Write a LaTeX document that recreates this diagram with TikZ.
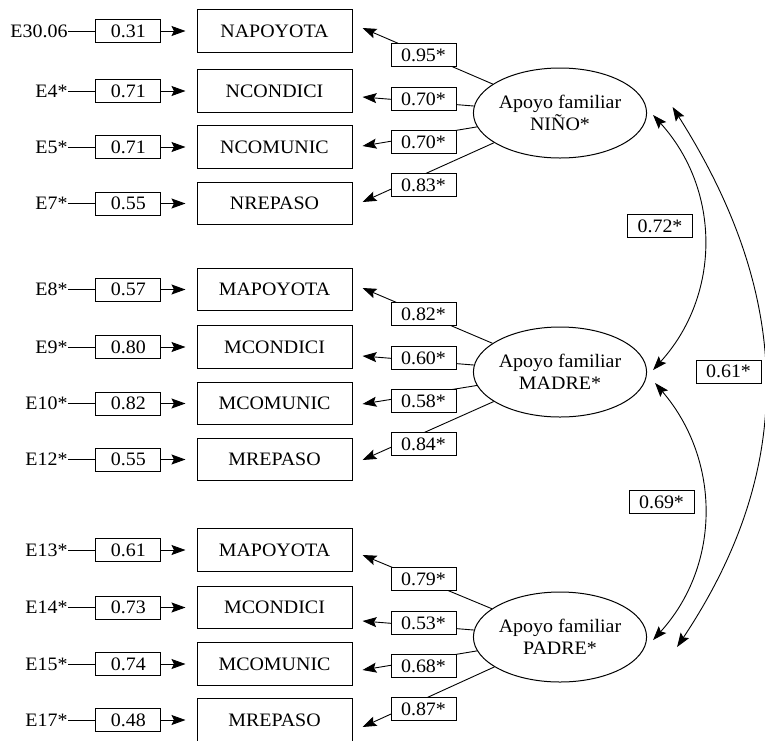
\documentclass[tikz,border=0pt]{standalone}
\usepackage{fontspec}
\setmainfont{Liberation Serif}[FakeStretch=1.05]
\usetikzlibrary{arrows.meta,shapes.geometric}

\begin{document}
\begin{tikzpicture}[x=1pt, y=-1pt, line width=0.9pt,
  every node/.style={inner sep=0pt, font=\fontsize{19}{22}\selectfont},
  >={Stealth[length=14pt,width=10pt,inset=2.5pt]},
  obs/.style={draw, line width=1pt, minimum width=155pt, minimum height=42.5pt},
  coef/.style={draw, line width=1pt, fill=white, minimum width=65pt, minimum height=23pt},
  lat/.style={draw, line width=1pt, ellipse, minimum width=165pt, minimum height=90pt, align=center},
  err/.style={anchor=east},
  errarrow/.style={->, shorten >=11pt}]
  \useasboundingbox (0,0) rectangle (765,740);

  % Latent factors
  \node[lat] (nino)  at (560,113) {Apoyo familiar\\NIÑO*};
  \node[lat] (madre) at (560,372) {Apoyo familiar\\MADRE*};
  \node[lat] (padre) at (560,637) {Apoyo familiar\\PADRE*};

  % Child indicators
  \node[obs] (v1) at (274.5,31)    {NAPOYOTA};
  \node[obs] (v2) at (274.5,91)    {NCONDICI};
  \node[obs] (v3) at (274.5,147)   {NCOMUNIC};
  \node[obs] (v4) at (274.5,203.5) {NREPASO};
  \node[err] (e1) at (68,31)    {E30.06};
  \node[err] (e2) at (68,91)    {E4*};
  \node[err] (e3) at (68,147)   {E5*};
  \node[err] (e4) at (68,203.5) {E7*};
  \draw[errarrow] (e1) -- (v1) node[coef, pos=0.47] (d1) {0.31};
  \draw[errarrow] (e2) -- (v2) node[coef, pos=0.47] (d2) {0.71};
  \draw[errarrow] (e3) -- (v3) node[coef, pos=0.47] (d3) {0.71};
  \draw[errarrow] (e4) -- (v4) node[coef, pos=0.47] (d4) {0.55};
  \draw[->] (nino) -- ([shift={(10,-3)}]v1.east);
  \draw[->] (nino) -- ([shift={(10,6)}]v2.east);
  \draw[->] (nino) -- ([shift={(10,-1)}]v3.east);
  \draw[->] (nino) -- ([shift={(10,-1.5)}]v4.east);
  \node[coef] (l1) at (423.5,55)  {0.95*};
  \node[coef] (l2) at (423.5,99)  {0.70*};
  \node[coef] (l3) at (423.5,142) {0.70*};
  \node[coef] (l4) at (423.5,185) {0.83*};

  % Mother indicators
  \node[obs] (v5) at (274.5,289.5) {MAPOYOTA};
  \node[obs] (v6) at (274.5,347)   {MCONDICI};
  \node[obs] (v7) at (274.5,403.5) {MCOMUNIC};
  \node[obs] (v8) at (274.5,459.5) {MREPASO};
  \node[err] (e5) at (68,289.5) {E8*};
  \node[err] (e6) at (68,347)   {E9*};
  \node[err] (e7) at (68,403.5) {E10*};
  \node[err] (e8) at (68,459.5) {E12*};
  \draw[errarrow] (e5) -- (v5) node[coef, pos=0.47] (d5) {0.57};
  \draw[errarrow] (e6) -- (v6) node[coef, pos=0.47] (d6) {0.80};
  \draw[errarrow] (e7) -- (v7) node[coef, pos=0.47] (d7) {0.82};
  \draw[errarrow] (e8) -- (v8) node[coef, pos=0.47] (d8) {0.55};
  \draw[->] (madre) -- ([shift={(10,-1.5)}]v5.east);
  \draw[->] (madre) -- ([shift={(10,9)}]v6.east);
  \draw[->] (madre) -- ([shift={(10,0.5)}]v7.east);
  \draw[->] (madre) -- ([shift={(10,0.5)}]v8.east);
  \node[coef] (l5) at (423.5,314) {0.82*};
  \node[coef] (l6) at (423.5,358) {0.60*};
  \node[coef] (l7) at (423.5,401) {0.58*};
  \node[coef] (l8) at (423.5,444) {0.84*};

  % Father indicators
  \node[obs] (v9)  at (274.5,550)   {MAPOYOTA};
  \node[obs] (v10) at (274.5,607.5) {MCONDICI};
  \node[obs] (v11) at (274.5,664)   {MCOMUNIC};
  \node[obs] (v12) at (274.5,720)   {MREPASO};
  \node[err] (e9)  at (68,550)   {E13*};
  \node[err] (e10) at (68,607.5) {E14*};
  \node[err] (e11) at (68,664)   {E15*};
  \node[err] (e12) at (68,720)   {E17*};
  \draw[errarrow] (e9)  -- (v9)  node[coef, pos=0.47] (d9)  {0.61};
  \draw[errarrow] (e10) -- (v10) node[coef, pos=0.47] (d10) {0.73};
  \draw[errarrow] (e11) -- (v11) node[coef, pos=0.47] (d11) {0.74};
  \draw[errarrow] (e12) -- (v12) node[coef, pos=0.47] (d12) {0.48};
  \draw[->] (padre) -- ([shift={(10,5)}]v9.east);
  \draw[->] (padre) -- ([shift={(10,13.5)}]v10.east);
  \draw[->] (padre) -- ([shift={(10,6)}]v11.east);
  \draw[->] (padre) -- ([shift={(10,7)}]v12.east);
  \node[coef] (l9)  at (423.5,579) {0.79*};
  \node[coef] (l10) at (423.5,623) {0.53*};
  \node[coef] (l11) at (423.5,666) {0.68*};
  \node[coef] (l12) at (423.5,709) {0.87*};

  % Correlations between factors
  \draw[<->] ([shift={(6,2)}]nino.east) .. controls (721,190) and (721,295) .. ([shift={(6,-2)}]madre.east);
  \draw[<->] ([shift={(8,11)}]madre.east) .. controls (721,460) and (721,565) .. ([shift={(6,3)}]padre.east);
  \draw[<->] ([shift={(25.5,-6)}]nino.east) .. controls (795,300) and (795,470) .. ([shift={(30,10)}]padre.east);
  \node[coef] (r12) at (660,226)     {0.72*};
  \node[coef] (r13) at (728.5,371.5) {0.61*};
  \node[coef] (r23) at (661.5,502)   {0.69*};
\end{tikzpicture}
\end{document}
